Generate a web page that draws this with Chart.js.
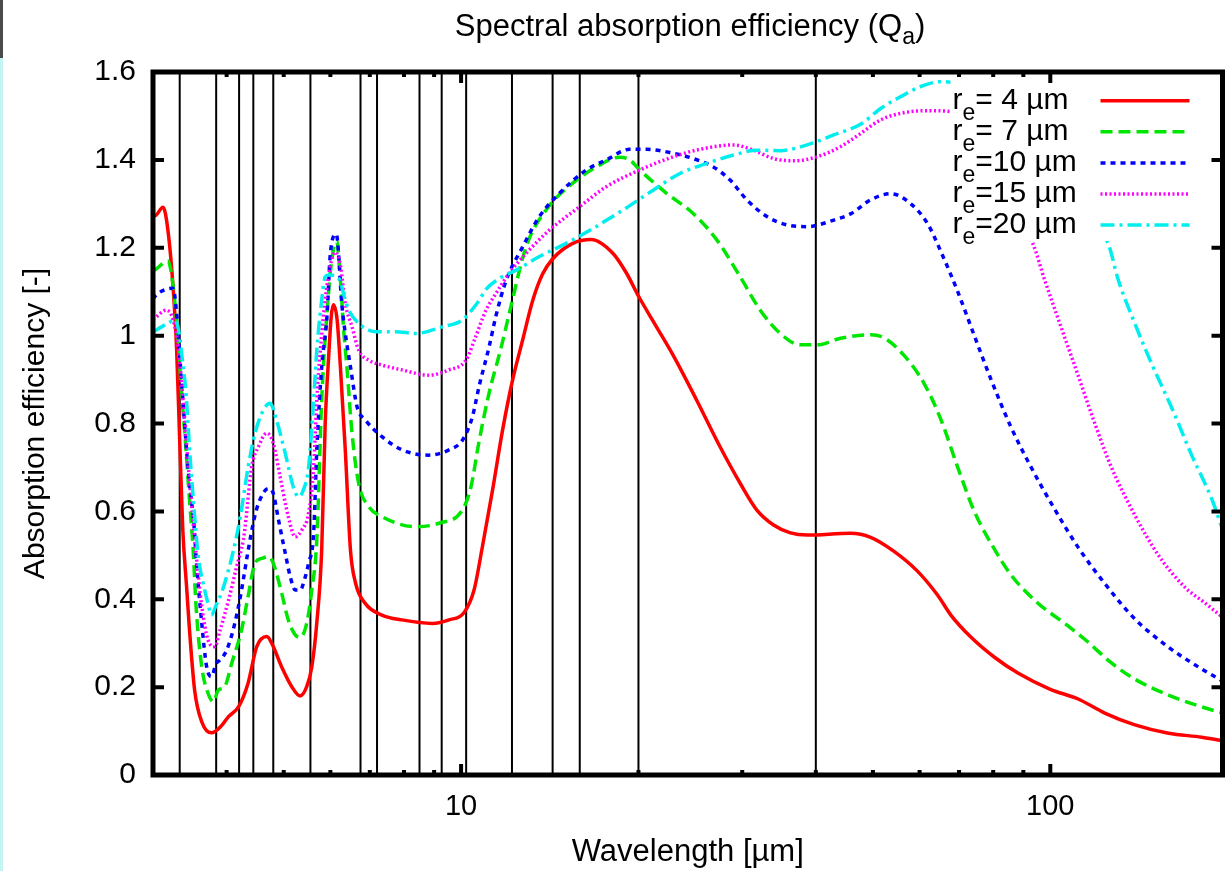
<!DOCTYPE html>
<html>
<head>
<meta charset="utf-8">
<script src="https://cdn.jsdelivr.net/npm/chart.js@4.4.1/dist/chart.umd.min.js"></script>
<style>
  html, body { margin: 0; padding: 0; background: #fff; }
  #wrap { position: relative; width: 1225px; height: 871px; overflow: hidden; }
  #edge { position: absolute; left: 0; top: 0; width: 3px; height: 871px; background: #c4f4f4; z-index: 2; }
  #edge:before { content: ''; position: absolute; left: 0; top: 0; width: 3px; height: 58px; background: #4a4a4a; }
  #title { position: absolute; top: 10px; left: 690px; transform: translateX(-50%); font: 31px "Liberation Sans", Arial, sans-serif; line-height: 31px; white-space: nowrap; color: #000; z-index: 2; }
  #title sub { font-size: 23px; vertical-align: -8px; line-height: 0; }
  canvas { position: absolute; left: 0; top: 0; }
</style>
</head>
<body>
<div id="wrap">
  <div id="edge"></div>
  <div id="title">Spectral absorption efficiency (Q<sub>a</sub>)</div>
  <canvas id="qaChart" width="1225" height="871"></canvas>
</div>
<script>
// wavelengths [µm] and absorption efficiency for each effective radius
const wl4 = [3.0, 3.04, 3.12, 3.18, 3.245, 3.29, 3.33, 3.37, 3.42, 3.46, 3.53, 3.63, 3.77, 3.92, 4.03, 4.19, 4.35, 4.50, 4.68, 4.77,
  4.96, 5.16, 5.33, 5.47, 5.58, 5.69, 5.80, 5.88, 5.96, 6.02, 6.07, 6.16, 6.24, 6.36, 6.49, 6.62, 6.88, 7.34, 7.94, 8.94,
  9.54, 10.12, 10.52, 10.87, 11.31, 11.76, 12.23, 12.72, 13.23, 13.75, 14.31, 15.47, 16.63, 18.11, 19.09, 20.02, 21.46, 22.91, 25.11, 27.51, 29.76,
  31.77, 33.91, 36.22, 38.66, 45.81, 49.55, 54.3, 59.5, 64.4, 67.8, 73.3, 80.4, 88.1, 100, 111.5, 123.7, 139.2, 158.7, 180.8, 196];
const q4 = [1.271, 1.275, 1.292, 1.24, 1.11, 0.97, 0.76, 0.56, 0.43, 0.33, 0.193, 0.121, 0.096, 0.112, 0.133, 0.155, 0.209, 0.292, 0.315, 0.30,
  0.246, 0.201, 0.18, 0.201, 0.246, 0.346, 0.512, 0.80, 0.952, 1.043, 1.07, 1.036, 0.929, 0.74, 0.512, 0.437, 0.39, 0.364, 0.353, 0.345,
  0.353, 0.37, 0.421, 0.52, 0.649, 0.785, 0.899, 0.99, 1.08, 1.14, 1.175, 1.21, 1.219, 1.187, 1.142, 1.089, 1.02, 0.955, 0.853, 0.747, 0.664,
  0.603, 0.569, 0.551, 0.546, 0.55, 0.541, 0.509, 0.464, 0.409, 0.364, 0.314, 0.268, 0.232, 0.195, 0.173, 0.141, 0.114, 0.095, 0.086, 0.078];

const wl7 = [3.0, 3.04, 3.18, 3.23, 3.31, 3.35, 3.40, 3.46, 3.51, 3.55, 3.63, 3.72, 3.80, 3.87, 3.97, 4.08, 4.24, 4.35, 4.47, 4.59,
  4.71, 4.80, 4.96, 5.09, 5.23, 5.33, 5.47, 5.58, 5.69, 5.80, 5.92, 6.03, 6.15, 6.24, 6.32, 6.40, 6.53, 6.70, 6.97, 7.34,
  8.37, 9.17, 10.05, 10.39, 10.73, 11.16, 11.68, 12.07, 12.89, 13.94, 15.47, 16.97, 18.59, 19.33, 20.10, 22.32, 24.77, 27.16, 29.76, 32.19,
  34.81, 37.65, 40.21, 44.06, 49.55, 52.21, 56.47, 61.07, 65.22, 69.65, 74.3, 79.34, 85.81, 95.29, 105.8, 114.4, 127.0, 139.2, 158.7, 180.8, 196];
const q7 = [1.147, 1.152, 1.17, 1.134, 0.99, 0.88, 0.77, 0.626, 0.512, 0.383, 0.246, 0.186, 0.167, 0.193, 0.201, 0.254, 0.33, 0.406, 0.482, 0.493,
  0.497, 0.482, 0.414, 0.353, 0.319, 0.313, 0.345, 0.421, 0.535, 0.853, 1.05, 1.17, 1.215, 1.127, 1.013, 0.929, 0.778, 0.664, 0.611, 0.588,
  0.565, 0.573, 0.603, 0.655, 0.76, 0.87, 0.97, 1.05, 1.202, 1.286, 1.347, 1.384, 1.406, 1.40, 1.377, 1.324, 1.278, 1.218, 1.134, 1.058,
  1.005, 0.979, 0.979, 0.994, 1.002, 0.995, 0.955, 0.891, 0.809, 0.70, 0.60, 0.527, 0.455, 0.391, 0.345, 0.309, 0.255, 0.218, 0.182, 0.155, 0.141];

const wl10 = [3.0, 3.02, 3.245, 3.29, 3.34, 3.44, 3.53, 3.55, 3.63, 3.70, 3.77, 3.84, 3.90, 4.00, 4.13, 4.24, 4.35, 4.45, 4.53, 4.71,
  4.80, 4.90, 5.03, 5.13, 5.23, 5.33, 5.44, 5.51, 5.62, 5.69, 5.80, 5.92, 6.00, 6.14, 6.28, 6.36, 6.49, 6.66, 6.88, 7.34,
  7.94, 8.82, 9.54, 10.05, 10.45, 10.73, 11.16, 11.46, 11.92, 12.72, 13.58, 14.69, 16.31, 17.64, 19.33, 20.64, 22.91, 24.77, 26.80, 28.62,
  30.55, 33.04, 35.74, 38.66, 42.91, 45.81, 49.55, 53.59, 57.98, 61.9, 65.22, 69.65, 74.3, 79.34, 85.81, 92.81, 100.4, 111.5, 123.7, 139.2,
  158.7, 180.8, 196];
const q10 = [1.083, 1.089, 1.108, 1.051, 0.93, 0.70, 0.55, 0.497, 0.345, 0.246, 0.224, 0.254, 0.262, 0.284, 0.345, 0.421, 0.51, 0.58, 0.618, 0.652,
  0.641, 0.58, 0.505, 0.451, 0.421, 0.421, 0.451, 0.482, 0.55, 0.74, 0.929, 1.043, 1.187, 1.231, 1.066, 1.005, 0.929, 0.838, 0.808, 0.77,
  0.74, 0.728, 0.74, 0.762, 0.815, 0.885, 0.975, 1.045, 1.125, 1.202, 1.271, 1.324, 1.377, 1.40, 1.424, 1.424, 1.415, 1.403, 1.384, 1.354,
  1.309, 1.271, 1.252, 1.248, 1.263, 1.277, 1.309, 1.323, 1.30, 1.255, 1.191, 1.10, 1.0, 0.90, 0.791, 0.70, 0.618, 0.518, 0.436, 0.355,
  0.291, 0.241, 0.214];

const wl15 = [3.0, 3.04, 3.16, 3.245, 3.31, 3.38, 3.45, 3.54, 3.63, 3.72, 3.82, 3.90, 4.03, 4.16, 4.27, 4.30, 4.41, 4.53, 4.68, 4.80,
  4.93, 5.09, 5.23, 5.37, 5.51, 5.62, 5.69, 5.77, 5.88, 6.0, 6.12, 6.24, 6.36, 6.53, 6.70, 6.97, 7.34, 7.94, 8.82, 9.54,
  10.19, 10.59, 11.02, 11.46, 12.07, 12.89, 14.12, 15.88, 17.64, 20.10, 22.91, 25.44, 29.0, 31.36, 33.91, 36.67, 40.21, 44.06, 47.64, 51.53,
  55.75, 61.9, 67.8, 93.43, 97.8, 104.4, 111.5, 119.0, 127.0, 139.2, 152.6, 169.3, 183.2, 196];
const q15 = [1.037, 1.043, 1.058, 1.036, 0.975, 0.84, 0.69, 0.52, 0.383, 0.307, 0.292, 0.33, 0.398, 0.474, 0.535, 0.565, 0.70, 0.747, 0.778, 0.755,
  0.679, 0.588, 0.542, 0.558, 0.596, 0.70, 0.853, 0.967, 1.081, 1.16, 1.19, 1.16, 1.073, 1.02, 0.967, 0.944, 0.933, 0.922, 0.91, 0.922,
  0.944, 0.998, 1.058, 1.096, 1.142, 1.187, 1.24, 1.293, 1.339, 1.377, 1.407, 1.424, 1.434, 1.422, 1.403, 1.398, 1.407, 1.43, 1.46, 1.491,
  1.506, 1.512, 1.51, 1.209, 1.127, 1.018, 0.909, 0.80, 0.70, 0.591, 0.50, 0.427, 0.391, 0.359];

const wl20 = [3.0, 3.04, 3.18, 3.27, 3.33, 3.35, 3.41, 3.47, 3.55, 3.58, 3.65, 3.72, 3.77, 3.84, 3.92, 4.03, 4.11, 4.22, 4.35, 4.47,
  4.62, 4.74, 4.86, 5.03, 5.19, 5.30, 5.40, 5.51, 5.62, 5.69, 5.80, 5.88, 5.96, 6.20, 6.36, 6.45, 6.70, 7.16, 7.74, 8.37,
  9.29, 10.05, 10.66, 11.02, 11.61, 12.40, 13.58, 15.08, 16.74, 18.83, 21.18, 23.52, 26.12, 29.0, 31.77, 34.81, 38.66, 42.91, 47.64, 51.53,
  55.75, 60.3, 65.22, 69.65, 125.4, 130.4, 139.2, 148.6, 160.7, 173.9, 188.1, 196];
const q20 = [1.008, 1.013, 1.028, 1.036, 0.998, 0.967, 0.875, 0.72, 0.55, 0.497, 0.436, 0.39, 0.364, 0.387, 0.414, 0.467, 0.512, 0.588, 0.70, 0.778,
  0.831, 0.846, 0.808, 0.732, 0.656, 0.633, 0.649, 0.70, 0.853, 0.967, 1.081, 1.134, 1.138, 1.13, 1.081, 1.058, 1.028, 1.009, 1.009, 1.005,
  1.02, 1.036, 1.075, 1.105, 1.13, 1.149, 1.18, 1.21, 1.244, 1.286, 1.331, 1.369, 1.392, 1.411, 1.422, 1.421, 1.434, 1.457, 1.481, 1.517,
  1.544, 1.567, 1.578, 1.573, 1.209, 1.127, 1.027, 0.936, 0.836, 0.727, 0.627, 0.559];

// instrument band positions [µm] (vertical lines)
const bandWl = [3.33, 3.84, 4.2, 4.44, 4.8, 5.55, 6.75, 7.2, 8.5, 9.27, 10.2, 12.2, 14.3, 15.9, 20, 40];

// axis ticks
const xLabelTicks = [10, 100];
const xMinorTicks = [4, 5, 6, 7, 8, 9, 20, 30, 40, 50, 60, 70, 80, 90];
const yTicks = [0, 0.2, 0.4, 0.6, 0.8, 1.0, 1.2, 1.4, 1.6];

const FONT = '"Liberation Sans", Arial, sans-serif';

const curves = [
  { tail: '= 4 µm', wl: wl4, q: q4, color: '#ff0000', dash: [] },
  { tail: '= 7 µm', wl: wl7, q: q7, color: '#00e600', dash: [12, 6] },
  { tail: '=10 µm', wl: wl10, q: q10, color: '#0000ff', dash: [5, 5] },
  { tail: '=15 µm', wl: wl15, q: q15, color: '#ff00ff', dash: [2, 2.5] },
  { tail: '=20 µm', wl: wl20, q: q20, color: '#00eeee', dash: [14, 5, 3, 5] }
];

function toPoints(wl, q) {
    return wl.map((w, i) => ({ x: w, y: q[i] }));
}

const datasets = curves.map((c, i) => ({
    label: 'r_e' + c.tail,
    data: toPoints(c.wl, c.q),
    borderColor: c.color,
    borderWidth: 3.5,
    borderDash: c.dash,
    cubicInterpolationMode: 'monotone',
    pointRadius: 0,
    fill: false,
    order: curves.length - i
}));

// vertical band lines, drawn behind the curves
bandWl.forEach(w => {
    datasets.push({
        data: [{ x: w, y: yTicks[0] }, { x: w, y: yTicks[yTicks.length - 1] }],
        borderColor: '#000',
        borderWidth: 2,
        pointRadius: 0,
        fill: false,
        order: 20
    });
});

// gnuplot style key with an opaque white box
const keyPlugin = {
    id: 'gnuplotKey',
    afterDatasetsDraw(chart) {
        const ctx = chart.ctx;
        const a = chart.chartArea;
        ctx.save();
        ctx.fillStyle = '#fff';
        ctx.fillRect(a.right - 272, a.top + 4, 262, 165);
        curves.forEach((c, i) => {
            const y = a.top + 28.7 + i * 31.1;
            const x = a.right - 270;
            ctx.fillStyle = '#000';
            ctx.textBaseline = 'alphabetic';
            ctx.textAlign = 'left';
            ctx.font = '30px ' + FONT;
            ctx.fillText('r', x, y + 8);
            let w = ctx.measureText('r').width;
            ctx.font = '23px ' + FONT;
            ctx.fillText('e', x + w, y + 19);
            w += ctx.measureText('e').width;
            ctx.font = '30px ' + FONT;
            ctx.fillText(c.tail, x + w, y + 8);

            ctx.strokeStyle = c.color;
            ctx.lineWidth = 3.5;
            ctx.setLineDash(c.dash);
            ctx.beginPath();
            ctx.moveTo(a.right - 122, y);
            ctx.lineTo(a.right - 33, y);
            ctx.stroke();
        });
        ctx.restore();
    }
};

// inward ticks on all four sides plus the heavy border
const framePlugin = {
    id: 'frame',
    afterDatasetsDraw(chart) {
        const { ctx, chartArea: a, scales: { x, y } } = chart;
        ctx.save();
        ctx.setLineDash([]);
        ctx.strokeStyle = '#000';
        ctx.lineWidth = 4;
        ctx.beginPath();
        yTicks.forEach(v => {
            const py = y.getPixelForValue(v);
            ctx.moveTo(a.left, py); ctx.lineTo(a.left + 11, py);
            ctx.moveTo(a.right, py); ctx.lineTo(a.right - 11, py);
        });
        xMinorTicks.forEach(v => {
            const px = x.getPixelForValue(v);
            ctx.moveTo(px, a.bottom); ctx.lineTo(px, a.bottom - 5);
            ctx.moveTo(px, a.top); ctx.lineTo(px, a.top + 5);
        });
        xLabelTicks.forEach(v => {
            const px = x.getPixelForValue(v);
            ctx.moveTo(px, a.bottom); ctx.lineTo(px, a.bottom - 11);
            ctx.moveTo(px, a.top); ctx.lineTo(px, a.top + 11);
        });
        ctx.stroke();
        ctx.lineWidth = 5;
        ctx.strokeRect(a.left, a.top, a.right - a.left, a.bottom - a.top);
        ctx.restore();
    }
};

const ctx = document.getElementById('qaChart').getContext('2d');
new Chart(ctx, {
    type: 'line',
    data: { datasets: datasets },
    options: {
        responsive: false,
        devicePixelRatio: 1,
        animation: false,
        layout: { padding: { top: 72, right: 2.5, left: 0, bottom: 0 } },
        plugins: {
            legend: { display: false },
            tooltip: { enabled: false },
            title: { display: false }
        },
        elements: { point: { radius: 0 } },
        scales: {
            x: {
                type: 'logarithmic',
                min: 3,
                max: 196,
                afterBuildTicks: s => { s.ticks = xLabelTicks.map(v => ({ value: v })); },
                afterFit: s => { s.height = 96; },
                grid: { display: false, drawTicks: false },
                border: { display: false },
                ticks: {
                    color: '#000',
                    font: { family: FONT, size: 29 },
                    padding: 15,
                    maxRotation: 0,
                    autoSkip: false,
                    callback: v => String(v)
                },
                title: {
                    display: true,
                    text: 'Wavelength [µm]',
                    color: '#000',
                    font: { family: FONT, size: 31 },
                    padding: { top: 0, bottom: 0 }
                }
            },
            y: {
                min: 0,
                max: 1.6,
                afterFit: s => { s.width = 153; },
                grid: { display: false, drawTicks: false },
                border: { display: false },
                ticks: {
                    stepSize: 0.2,
                    color: '#000',
                    font: { family: FONT, size: 30 },
                    padding: 17,
                    callback: v => String(parseFloat(v.toFixed(1)))
                },
                title: {
                    display: true,
                    text: 'Absorption efficiency [-]',
                    color: '#000',
                    font: { family: FONT, size: 30 },
                    padding: { top: 18, bottom: 0 }
                }
            }
        }
    },
    plugins: [keyPlugin, framePlugin]
});
</script>
</body>
</html>
